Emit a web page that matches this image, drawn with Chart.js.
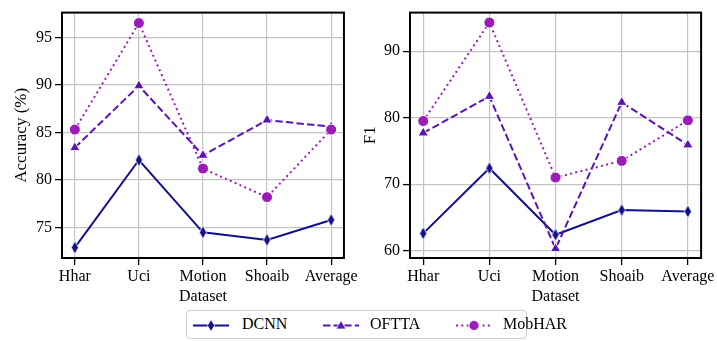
<!DOCTYPE html>
<html>
<head>
<meta charset="utf-8">
<script src="https://cdn.jsdelivr.net/npm/chart.js@4.4.1/dist/chart.umd.min.js"></script>
<style>
  html, body { margin: 0; padding: 0; background: #fff; }
  #wrap { position: relative; width: 717px; height: 341px; overflow: hidden; font-family: "Liberation Serif", "DejaVu Serif", serif; }
  .box { position: absolute; top: 0; }
  #legend { position: absolute; left: 186px; top: 310px; width: 341px; height: 29px; box-sizing: border-box;
            border: 1px solid #cfcfcf; border-radius: 4px; background: #fff; }
  .item { position: absolute; top: 0; height: 27px; }
  .item svg { position: absolute; top: 7px; left: 0; }
  .item span { position: absolute; top: 4px; font-size: 16px; color: #000; white-space: nowrap; }
</style>
</head>
<body>
<div id="wrap">
  <div class="box" style="left:0;width:360px;height:306px"><canvas id="accChart"></canvas></div>
  <div class="box" style="left:358px;width:359px;height:306px"><canvas id="f1Chart"></canvas></div>
  <div id="legend"></div>
</div>
<script>
// --- Data ---
const datasetNames = ['Hhar', 'Uci', 'Motion', 'Shoaib', 'Average'];
const methods = ['DCNN', 'OFTTA', 'MobHAR'];

const accDCNN   = [72.9, 82.1, 74.5, 73.7, 75.8];
const accOFTTA  = [83.4, 89.9, 82.6, 86.3, 85.6];
const accMobHAR = [85.3, 96.5, 81.2, 78.2, 85.3];

const f1DCNN   = [62.6, 72.4, 62.4, 66.1, 65.9];
const f1OFTTA  = [77.7, 83.2, 60.3, 82.3, 75.9];
const f1MobHAR = [79.5, 94.3, 71.0, 73.5, 79.6];

const accTicks = [75, 80, 85, 90, 95];
const f1Ticks = [60, 70, 80, 90];

// --- Styles ---
const colors = ['#12118b', '#5a14b6', '#9a1db8'];
const dashes = [[], [7.4, 3.2], [2, 3.3]];
const FONT = '"Liberation Serif", "DejaVu Serif", serif';

// thin diamond marker (seaborn 'd')
function makeDiamond(color) {
    const c = document.createElement('canvas');
    c.width = 10; c.height = 15;
    const ctx = c.getContext('2d');
    ctx.beginPath();
    ctx.moveTo(5, 1); ctx.lineTo(8.6, 7.5); ctx.lineTo(5, 14); ctx.lineTo(1.4, 7.5); ctx.closePath();
    ctx.fillStyle = color; ctx.fill();
    ctx.strokeStyle = '#fff'; ctx.lineWidth = 0.8; ctx.stroke();
    return c;
}
const diamond = makeDiamond(colors[0]);
const pointStyles = [diamond, 'triangle', 'circle'];
const pointRadii = [5, 6, 5.5];

function toPoints(arr) {
    return arr.map((v, i) => ({ x: i, y: v }));
}

function buildDatasets(series) {
    return series.map((arr, k) => ({
        label: methods[k],
        data: toPoints(arr),
        borderColor: colors[k],
        backgroundColor: colors[k],
        borderWidth: 2,
        borderDash: dashes[k],
        pointStyle: pointStyles[k],
        pointRadius: pointRadii[k],
        pointBorderColor: '#fff',
        pointBorderWidth: 1,
        pointBackgroundColor: colors[k],
        order: 2 - k,
        tension: 0
    }));
}

// box frame around plot area
const framePlugin = {
    id: 'frame',
    beforeDatasetsDraw(chart) {
        const a = chart.chartArea, ctx = chart.ctx;
        ctx.save();
        ctx.strokeStyle = '#000';
        ctx.lineWidth = 2;
        ctx.strokeRect(a.left, a.top, a.right - a.left, a.bottom - a.top);
        ctx.restore();
    }
};

function makeChart(id, series, yMin, yMax, yTicks, yTitle, yWidth, padRight, yTitlePad) {
    return new Chart(document.getElementById(id), {
        type: 'line',
        data: { datasets: buildDatasets(series) },
        options: {
            responsive: true,
            maintainAspectRatio: false,
            animation: false,
            layout: { padding: { top: 5, right: padRight, left: 0, bottom: 0 } },
            plugins: { legend: { display: false }, tooltip: { enabled: false } },
            scales: {
                x: {
                    type: 'linear',
                    min: -0.2, max: 4.2,
                    afterBuildTicks: s => { s.ticks = datasetNames.map((_, i) => ({ value: i })); },
                    afterFit: s => { s.height = 48; },
                    ticks: {
                        callback: v => datasetNames[v],
                        color: '#000', font: { family: FONT, size: 16 }, padding: 2,
                        maxRotation: 0, autoSkip: false
                    },
                    grid: { color: '#c4c4c4', lineWidth: 1.2, tickColor: '#000', tickLength: 7, tickWidth: 1.3 },
                    border: { display: false },
                    title: { display: true, text: 'Dataset', color: '#000', font: { family: FONT, size: 16, lineHeight: 1.2 }, padding: { top: 0, bottom: 0 } }
                },
                y: {
                    min: yMin, max: yMax,
                    afterBuildTicks: s => { s.ticks = yTicks.map(v => ({ value: v })); },
                    afterFit: s => { s.width = yWidth; },
                    ticks: { color: '#000', font: { family: FONT, size: 16 }, padding: 3 },
                    grid: { color: '#c4c4c4', lineWidth: 1.2, tickColor: '#000', tickLength: 7, tickWidth: 1.3 },
                    border: { display: false },
                    title: { display: true, text: yTitle, color: '#000', font: { family: FONT, size: 17, lineHeight: 1.2 }, padding: { top: yTitlePad, bottom: 0 } }
                }
            }
        },
        plugins: [framePlugin]
    });
}

makeChart('accChart', [accDCNN, accOFTTA, accMobHAR], 71.8, 97.6, accTicks, 'Accuracy (%)', 62, 8, 11);
makeChart('f1Chart', [f1DCNN, f1OFTTA, f1MobHAR], 58.9, 95.8, f1Ticks, 'F1', 52, 14, 2.5);

// --- Legend ---
const legendPos = [{ line: 6, text: 55 }, { line: 136, text: 183 }, { line: 269, text: 316 }];
const legend = document.getElementById('legend');
methods.forEach((name, k) => {
    const item = document.createElement('div');
    item.className = 'item';
    item.style.left = legendPos[k].line + 'px';
    const dash = dashes[k].length ? `stroke-dasharray="${dashes[k].join(' ')}"` : '';
    let marker;
    if (k === 0) marker = `<polygon points="18,1.5 21.6,7.5 18,13.5 14.4,7.5" fill="${colors[k]}" stroke="#fff" stroke-width="0.8"/>`;
    else if (k === 1) marker = `<polygon points="18,2.5 23,11 13,11" fill="${colors[k]}" stroke="#fff" stroke-width="0.8"/>`;
    else marker = `<circle cx="18" cy="7.5" r="5" fill="${colors[k]}" stroke="#fff" stroke-width="0.8"/>`;
    item.innerHTML = `<svg width="36" height="15"><line x1="0" y1="7.5" x2="36" y2="7.5" stroke="${colors[k]}" stroke-width="2" ${dash}/>${marker}</svg>` +
        `<span style="left:${legendPos[k].text - legendPos[k].line}px">${name}</span>`;
    legend.appendChild(item);
});
</script>
</body>
</html>
